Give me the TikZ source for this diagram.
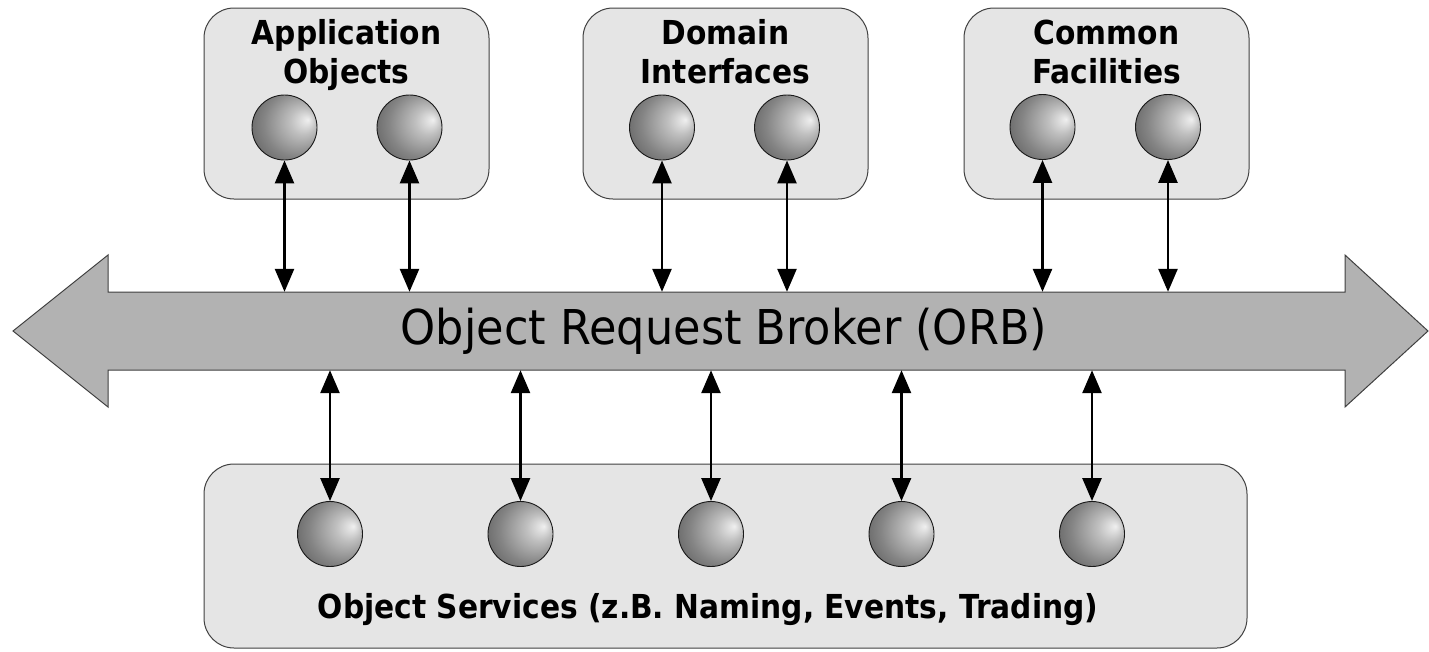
\documentclass[tikz,border=0pt]{standalone}
\usepackage{fontspec}
\usetikzlibrary{arrows.meta}
\usetikzlibrary{calc,positioning}

\newfontfamily\labelfont[FakeStretch=0.9,BoldFont={DejaVu Sans Bold}]{DejaVu Sans}
\newfontfamily\orbfont[FakeStretch=0.93]{DejaVu Sans}

% grey ball, light spot up right
\pgfdeclareradialshading{orbball}{\pgfpoint{18bp}{6bp}}{%
  color(0bp)=(black!6); color(10bp)=(black!25); color(25bp)=(black!48);
  color(40bp)=(black!66); color(50bp)=(black!78)}

\begin{document}
\begin{tikzpicture}[x=1pt, y=-1pt,
		group/.style={draw=black!75, fill=black!10, line width=1pt, rounded corners=30pt, inner sep=0pt},
		ball/.style={circle, draw=black!90, line width=0.9pt, minimum size=65pt, inner sep=0pt, shading=orbball},
		title/.style={font=\labelfont\bfseries\fontsize{33}{39}\selectfont, align=center, inner sep=0pt, anchor=base},
		link/.style={line width=2.6pt, {Triangle[length=23pt,width=19pt]}-{Triangle[length=23pt,width=19pt]}}]
			\useasboundingbox (0,0) rectangle (1429,651);

			% the three groups on top
			\node[group, minimum width=285pt, minimum height=191pt](appbox) at (346.5,103.5){};
			\node[group, minimum width=285pt, minimum height=191pt](dombox) at (725.5,103.5){};
			\node[group, minimum width=285pt, minimum height=191pt](comtbox) at (1106.5,103.5){};
			% base anchor sits on the second line
			\node[title](apptitle) at (346.5,83){Application\\Objects};
			\node[title](domtitle) at (725.5,83){Domain\\Interfaces};
			\node[title](comtitle) at (1106.5,83){Common\\Facilities};

			% services below
			\node[group, minimum width=1043pt, minimum height=184pt](servbox) at (725.5,556){};
			\node[title](servtitle) at (708,618){Object Services (z.B. Naming, Events, Trading)};

			% the bus
			\draw[draw=black!75, fill=black!30, line width=1pt] (13,331) -- (108,255) -- (108,292) -- (1345,292) -- (1345,255)
				-- (1428,331) -- (1345,407) -- (1345,370) -- (108,370) -- (108,407) -- cycle;
			\node[minimum width=1237pt, minimum height=78pt, inner sep=0pt, font=\orbfont\fontsize{48}{56}\selectfont](orb) at (724,331){Object Request Broker (ORB)};

			\node[ball](a1) at (284.5,127.5){};
			\node[ball](a2) at (409.5,127.5){};
			\node[ball](d1) at (662,127.5){};
			\node[ball](d2) at (787,127.5){};
			\node[ball](c1) at (1042.5,127){};
			\node[ball](c2) at (1168,127){};

			\node[ball](s1) at (330,534){};
			\node[ball](s2) at (520.5,534){};
			\node[ball](s3) at (711,534){};
			\node[ball](s4) at (901.5,534){};
			\node[ball](s5) at (1092,534){};

			\draw[link] (a1.south) -- (a1.south |- orb.north);
			\draw[link] (a2.south) -- (a2.south |- orb.north);
			\draw[link] (d1.south) -- (d1.south |- orb.north);
			\draw[link] (d2.south) -- (d2.south |- orb.north);
			\draw[link] (c1.south) -- (c1.south |- orb.north);
			\draw[link] (c2.south) -- (c2.south |- orb.north);

			\draw[link] (s1.north |- orb.south) -- (s1.north);
			\draw[link] (s2.north |- orb.south) -- (s2.north);
			\draw[link] (s3.north |- orb.south) -- (s3.north);
			\draw[link] (s4.north |- orb.south) -- (s4.north);
			\draw[link] (s5.north |- orb.south) -- (s5.north);
		\end{tikzpicture}
\end{document}
